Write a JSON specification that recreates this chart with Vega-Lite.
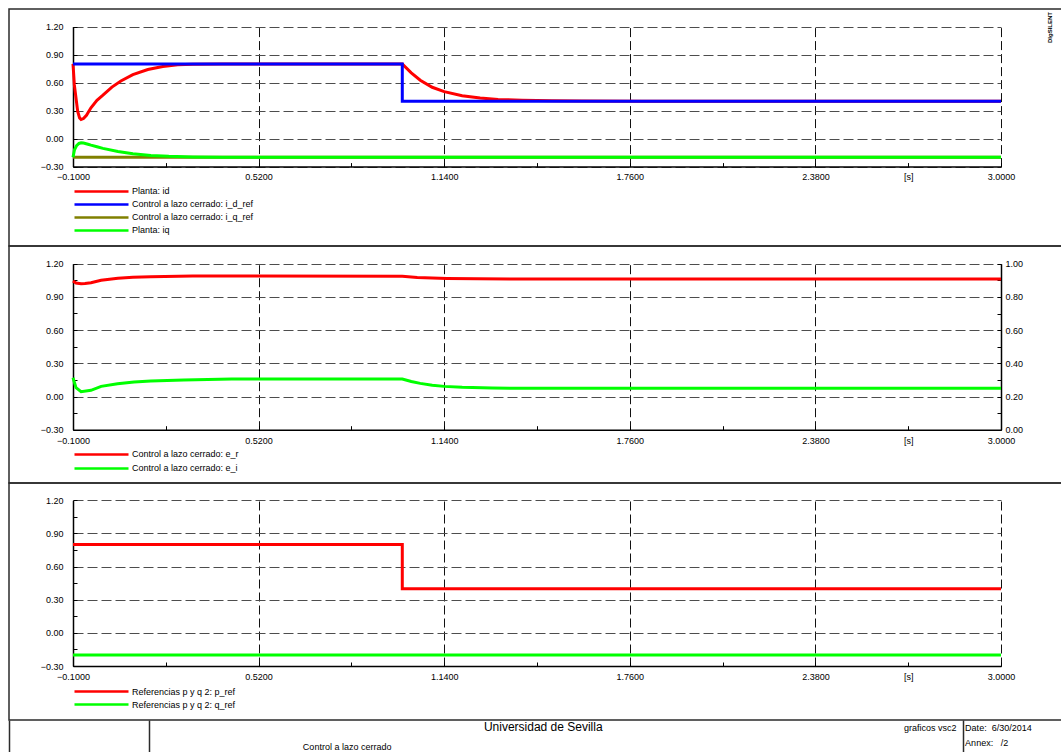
{
  "$schema": "https://vega.github.io/schema/vega-lite/v6.json",
  "background": "white",
  "padding": {"left": 8, "top": 8, "right": 0, "bottom": 0},
  "bounds": "flush",
  "spacing": 0,
  "resolve": {"scale": {"color": "independent"}, "legend": {"color": "independent"}},
  "config": {
    "font": "Liberation Sans",
    "view": {"stroke": "#2b2b2b", "strokeWidth": 1.5},
    "axis": {
      "labelFont": "Liberation Sans",
      "labelFontSize": 9,
      "labelColor": "#000",
      "domainColor": "#000",
      "domainWidth": 1.5,
      "tickColor": "#000",
      "tickWidth": 1,
      "labelFlush": false,
      "labelOverlap": false
    },
    "legend": {
      "labelFont": "Liberation Sans",
      "labelFontSize": 9,
      "labelColor": "#000",
      "labelLimit": 400
    }
  },
  "datasets": {
    "corrientes": [
      {"serie": "Planta: id", "t": -0.1, "v": 0.8},
      {"serie": "Planta: id", "t": -0.0955, "v": 0.575},
      {"serie": "Planta: id", "t": -0.0843, "v": 0.29},
      {"serie": "Planta: id", "t": -0.078, "v": 0.222},
      {"serie": "Planta: id", "t": -0.073, "v": 0.205},
      {"serie": "Planta: id", "t": -0.065, "v": 0.215},
      {"serie": "Planta: id", "t": -0.055, "v": 0.25},
      {"serie": "Planta: id", "t": -0.04, "v": 0.33},
      {"serie": "Planta: id", "t": -0.02, "v": 0.41},
      {"serie": "Planta: id", "t": 0.0, "v": 0.465},
      {"serie": "Planta: id", "t": 0.03, "v": 0.552},
      {"serie": "Planta: id", "t": 0.06, "v": 0.618},
      {"serie": "Planta: id", "t": 0.1, "v": 0.685},
      {"serie": "Planta: id", "t": 0.15, "v": 0.74},
      {"serie": "Planta: id", "t": 0.2, "v": 0.773},
      {"serie": "Planta: id", "t": 0.25, "v": 0.79},
      {"serie": "Planta: id", "t": 0.3, "v": 0.797},
      {"serie": "Planta: id", "t": 0.4, "v": 0.8},
      {"serie": "Planta: id", "t": 1.0, "v": 0.8},
      {"serie": "Planta: id", "t": 1.03, "v": 0.705},
      {"serie": "Planta: id", "t": 1.06, "v": 0.625},
      {"serie": "Planta: id", "t": 1.1, "v": 0.55},
      {"serie": "Planta: id", "t": 1.14, "v": 0.503},
      {"serie": "Planta: id", "t": 1.2, "v": 0.46},
      {"serie": "Planta: id", "t": 1.26, "v": 0.434},
      {"serie": "Planta: id", "t": 1.32, "v": 0.42},
      {"serie": "Planta: id", "t": 1.4, "v": 0.411},
      {"serie": "Planta: id", "t": 1.5, "v": 0.405},
      {"serie": "Planta: id", "t": 1.6, "v": 0.402},
      {"serie": "Planta: id", "t": 1.8, "v": 0.4},
      {"serie": "Planta: id", "t": 3.0, "v": 0.4},
      {"serie": "Control a lazo cerrado: i_d_ref", "t": -0.1, "v": 0.8},
      {"serie": "Control a lazo cerrado: i_d_ref", "t": 1.0, "v": 0.8},
      {"serie": "Control a lazo cerrado: i_d_ref", "t": 1.0, "v": 0.4},
      {"serie": "Control a lazo cerrado: i_d_ref", "t": 3.0, "v": 0.4},
      {"serie": "Control a lazo cerrado: i_q_ref", "t": -0.1, "v": -0.2},
      {"serie": "Control a lazo cerrado: i_q_ref", "t": 3.0, "v": -0.2},
      {"serie": "Planta: iq", "t": -0.1, "v": -0.2},
      {"serie": "Planta: iq", "t": -0.095, "v": -0.12},
      {"serie": "Planta: iq", "t": -0.088, "v": -0.075},
      {"serie": "Planta: iq", "t": -0.08, "v": -0.052},
      {"serie": "Planta: iq", "t": -0.073, "v": -0.045},
      {"serie": "Planta: iq", "t": -0.065, "v": -0.048},
      {"serie": "Planta: iq", "t": -0.05, "v": -0.06},
      {"serie": "Planta: iq", "t": -0.04, "v": -0.07},
      {"serie": "Planta: iq", "t": -0.02, "v": -0.088},
      {"serie": "Planta: iq", "t": 0.0, "v": -0.105},
      {"serie": "Planta: iq", "t": 0.05, "v": -0.139},
      {"serie": "Planta: iq", "t": 0.1, "v": -0.163},
      {"serie": "Planta: iq", "t": 0.16, "v": -0.18},
      {"serie": "Planta: iq", "t": 0.22, "v": -0.19},
      {"serie": "Planta: iq", "t": 0.3, "v": -0.197},
      {"serie": "Planta: iq", "t": 0.4, "v": -0.2},
      {"serie": "Planta: iq", "t": 3.0, "v": -0.2}
    ],
    "tension_r": [
      {"serie": "Control a lazo cerrado: e_r", "t": -0.1, "v": 1.044},
      {"serie": "Control a lazo cerrado: e_r", "t": -0.09, "v": 1.025},
      {"serie": "Control a lazo cerrado: e_r", "t": -0.073, "v": 1.019},
      {"serie": "Control a lazo cerrado: e_r", "t": -0.06, "v": 1.022},
      {"serie": "Control a lazo cerrado: e_r", "t": -0.04, "v": 1.028},
      {"serie": "Control a lazo cerrado: e_r", "t": -0.006, "v": 1.05},
      {"serie": "Control a lazo cerrado: e_r", "t": 0.05, "v": 1.068},
      {"serie": "Control a lazo cerrado: e_r", "t": 0.1, "v": 1.077},
      {"serie": "Control a lazo cerrado: e_r", "t": 0.16, "v": 1.083},
      {"serie": "Control a lazo cerrado: e_r", "t": 0.3, "v": 1.088},
      {"serie": "Control a lazo cerrado: e_r", "t": 0.5, "v": 1.089},
      {"serie": "Control a lazo cerrado: e_r", "t": 1.0, "v": 1.087},
      {"serie": "Control a lazo cerrado: e_r", "t": 1.05, "v": 1.076},
      {"serie": "Control a lazo cerrado: e_r", "t": 1.1, "v": 1.07},
      {"serie": "Control a lazo cerrado: e_r", "t": 1.15, "v": 1.066},
      {"serie": "Control a lazo cerrado: e_r", "t": 1.25, "v": 1.063},
      {"serie": "Control a lazo cerrado: e_r", "t": 1.4, "v": 1.062},
      {"serie": "Control a lazo cerrado: e_r", "t": 3.0, "v": 1.062}
    ],
    "tension_i": [
      {"serie": "Control a lazo cerrado: e_i", "t": -0.1, "v": 0.313},
      {"serie": "Control a lazo cerrado: e_i", "t": -0.09, "v": 0.253},
      {"serie": "Control a lazo cerrado: e_i", "t": -0.073, "v": 0.229},
      {"serie": "Control a lazo cerrado: e_i", "t": -0.04, "v": 0.237},
      {"serie": "Control a lazo cerrado: e_i", "t": -0.006, "v": 0.261},
      {"serie": "Control a lazo cerrado: e_i", "t": 0.049, "v": 0.277},
      {"serie": "Control a lazo cerrado: e_i", "t": 0.104, "v": 0.287},
      {"serie": "Control a lazo cerrado: e_i", "t": 0.16, "v": 0.293},
      {"serie": "Control a lazo cerrado: e_i", "t": 0.27, "v": 0.299},
      {"serie": "Control a lazo cerrado: e_i", "t": 0.43, "v": 0.305},
      {"serie": "Control a lazo cerrado: e_i", "t": 1.0, "v": 0.305},
      {"serie": "Control a lazo cerrado: e_i", "t": 1.03, "v": 0.29},
      {"serie": "Control a lazo cerrado: e_i", "t": 1.06, "v": 0.279},
      {"serie": "Control a lazo cerrado: e_i", "t": 1.1, "v": 0.268},
      {"serie": "Control a lazo cerrado: e_i", "t": 1.14, "v": 0.261},
      {"serie": "Control a lazo cerrado: e_i", "t": 1.2, "v": 0.255},
      {"serie": "Control a lazo cerrado: e_i", "t": 1.3, "v": 0.251},
      {"serie": "Control a lazo cerrado: e_i", "t": 1.45, "v": 0.249},
      {"serie": "Control a lazo cerrado: e_i", "t": 3.0, "v": 0.249}
    ],
    "referencias": [
      {"serie": "Referencias p y q 2: p_ref", "t": -0.1, "v": 0.8},
      {"serie": "Referencias p y q 2: p_ref", "t": 1.0, "v": 0.8},
      {"serie": "Referencias p y q 2: p_ref", "t": 1.0, "v": 0.4},
      {"serie": "Referencias p y q 2: p_ref", "t": 3.0, "v": 0.4},
      {"serie": "Referencias p y q 2: q_ref", "t": -0.1, "v": -0.2},
      {"serie": "Referencias p y q 2: q_ref", "t": 3.0, "v": -0.2}
    ]
  },
  "vconcat": [
    {
      "width": 1060,
      "height": 237,
      "layer": [
        {
          "data": {"name": "corrientes"},
          "mark": {"type": "line", "strokeWidth": 3},
          "encoding": {
            "x": {
              "field": "t", "type": "quantitative",
              "scale": {"domain": [-0.1, 3.0], "range": [64, 992], "nice": false, "zero": false},
              "axis": {
                "orient": "top", "offset": -157.6, "title": null,
                "values": [-0.1, 0.21, 0.52, 0.83, 1.14, 1.45, 1.76, 2.07, 2.38, 2.69, 3.0],
                "labelExpr": "abs(datum.value - 2.69) < 0.001 ? '[s]' : (abs((datum.value + 0.1) / 0.62 - round((datum.value + 0.1) / 0.62)) < 0.01 ? format(datum.value, '.4f') : '')",
                "tickSize": 4, "labelPadding": -14.3, "labelBaseline": "middle",
                "grid": true, "gridColor": "#111", "gridDash": [9, 4],
                "gridOpacity": {"condition": {"test": "abs((datum.value + 0.1) / 0.62 - round((datum.value + 0.1) / 0.62)) < 0.01", "value": 1}, "value": 0}
              }
            },
            "y": {
              "field": "v", "type": "quantitative",
              "scale": {"domain": [-0.3, 1.2], "range": [157.6, 17.6], "nice": false, "zero": false},
              "axis": {
                "orient": "left", "offset": -64, "title": null,
                "values": [-0.3, -0.15, 0, 0.15, 0.3, 0.45, 0.6, 0.75, 0.9, 1.05, 1.2],
                "labelExpr": "abs(datum.value / 0.3 - round(datum.value / 0.3)) < 0.01 ? format(datum.value, '.2f') : ''",
                "tickSize": -4, "labelPadding": 14,
                "grid": true, "gridColor": "#4d4d4d", "gridDash": [10, 4],
                "gridOpacity": {"condition": {"test": "abs(datum.value / 0.3 - round(datum.value / 0.3)) < 0.01", "value": 1}, "value": 0}
              }
            },
            "color": {
              "field": "serie", "type": "nominal",
              "scale": {
                "domain": ["Planta: id", "Control a lazo cerrado: i_d_ref", "Control a lazo cerrado: i_q_ref", "Planta: iq"],
                "range": ["#ff0000", "#0000ff", "#808000", "#00ff00"]
              },
              "legend": {
                "orient": "none", "legendX": 64, "legendY": 176, "direction": "vertical", "title": null,
                "symbolType": "stroke", "symbolSize": 2916, "symbolStrokeWidth": 2.5,
                "labelOffset": 2, "clipHeight": 12.8, "rowPadding": 0, "padding": 0
              }
            }
          }
        },
        {
          "data": {"values": [{"rotulo": "DIgSILENT"}]},
          "mark": {"type": "text", "angle": 270, "align": "left", "baseline": "middle", "fontSize": 6, "fontWeight": "bold", "color": "#000"},
          "encoding": {
            "x": {"datum": 3.164, "type": "quantitative"},
            "y": {"datum": 1.024, "type": "quantitative"},
            "text": {"field": "rotulo"}
          }
        }
      ]
    },
    {
      "width": 1060,
      "height": 237,
      "resolve": {"scale": {"y": "independent"}},
      "layer": [
        {
          "data": {"name": "tension_r"},
          "mark": {"type": "line", "strokeWidth": 3},
          "encoding": {
            "x": {
              "field": "t", "type": "quantitative",
              "scale": {"domain": [-0.1, 3.0], "range": [64, 992], "nice": false, "zero": false},
              "axis": {
                "orient": "top", "offset": -183.7, "title": null,
                "values": [-0.1, 0.21, 0.52, 0.83, 1.14, 1.45, 1.76, 2.07, 2.38, 2.69, 3.0],
                "labelExpr": "abs(datum.value - 2.69) < 0.001 ? '[s]' : (abs((datum.value + 0.1) / 0.62 - round((datum.value + 0.1) / 0.62)) < 0.01 ? format(datum.value, '.4f') : '')",
                "tickSize": 4, "labelPadding": -14.3, "labelBaseline": "middle",
                "grid": true, "gridColor": "#111", "gridDash": [9, 4],
                "gridOpacity": {"condition": {"test": "abs((datum.value + 0.1) / 0.62 - round((datum.value + 0.1) / 0.62)) < 0.01", "value": 1}, "value": 0}
              }
            },
            "y": {
              "field": "v", "type": "quantitative",
              "scale": {"domain": [-0.3, 1.2], "range": [183.7, 17.7], "nice": false, "zero": false},
              "axis": {
                "orient": "left", "offset": -64, "title": null,
                "values": [-0.3, -0.15, 0, 0.15, 0.3, 0.45, 0.6, 0.75, 0.9, 1.05, 1.2],
                "labelExpr": "abs(datum.value / 0.3 - round(datum.value / 0.3)) < 0.01 ? format(datum.value, '.2f') : ''",
                "tickSize": -4, "labelPadding": 14,
                "grid": true, "gridColor": "#4d4d4d", "gridDash": [10, 4],
                "gridOpacity": {"condition": {"test": "abs(datum.value / 0.3 - round(datum.value / 0.3)) < 0.01", "value": 1}, "value": 0}
              }
            },
            "color": {
              "field": "serie", "type": "nominal",
              "scale": {
                "domain": ["Control a lazo cerrado: e_r", "Control a lazo cerrado: e_i"],
                "range": ["#ff0000", "#00ff00"]
              },
              "legend": {
                "orient": "none", "legendX": 64, "legendY": 201.8, "direction": "vertical", "title": null,
                "symbolType": "stroke", "symbolSize": 2916, "symbolStrokeWidth": 2.5,
                "labelOffset": 2, "clipHeight": 13.3, "rowPadding": 0, "padding": 0
              }
            }
          }
        },
        {
          "data": {"name": "tension_i"},
          "mark": {"type": "line", "strokeWidth": 3},
          "encoding": {
            "x": {"field": "t", "type": "quantitative"},
            "y": {
              "field": "v", "type": "quantitative",
              "scale": {"domain": [0, 1], "range": [183.7, 17.7], "nice": false, "zero": false},
              "axis": {
                "orient": "right", "offset": -68, "title": null,
                "values": [0, 0.1, 0.2, 0.3, 0.4, 0.5, 0.6, 0.7, 0.8, 0.9, 1.0],
                "labelExpr": "round(datum.value * 10) % 2 == 0 ? format(datum.value, '.2f') : ''",
                "tickSize": -4, "labelPadding": 8, "grid": false
              }
            },
            "color": {"field": "serie", "type": "nominal"}
          }
        }
      ]
    },
    {
      "width": 1060,
      "height": 237,
      "data": {"name": "referencias"},
      "mark": {"type": "line", "strokeWidth": 3},
      "encoding": {
        "x": {
          "field": "t", "type": "quantitative",
          "scale": {"domain": [-0.1, 3.0], "range": [64, 992], "nice": false, "zero": false},
          "axis": {
            "orient": "top", "offset": -183, "title": null,
            "values": [-0.1, 0.21, 0.52, 0.83, 1.14, 1.45, 1.76, 2.07, 2.38, 2.69, 3.0],
            "labelExpr": "abs(datum.value - 2.69) < 0.001 ? '[s]' : (abs((datum.value + 0.1) / 0.62 - round((datum.value + 0.1) / 0.62)) < 0.01 ? format(datum.value, '.4f') : '')",
            "tickSize": 4, "labelPadding": -14.3, "labelBaseline": "middle",
            "grid": true, "gridColor": "#111", "gridDash": [9, 4],
            "gridOpacity": {"condition": {"test": "abs((datum.value + 0.1) / 0.62 - round((datum.value + 0.1) / 0.62)) < 0.01", "value": 1}, "value": 0}
          }
        },
        "y": {
          "field": "v", "type": "quantitative",
          "scale": {"domain": [-0.3, 1.2], "range": [183, 17.3], "nice": false, "zero": false},
          "axis": {
            "orient": "left", "offset": -64, "title": null,
            "values": [-0.3, -0.15, 0, 0.15, 0.3, 0.45, 0.6, 0.75, 0.9, 1.05, 1.2],
            "labelExpr": "abs(datum.value / 0.3 - round(datum.value / 0.3)) < 0.01 ? format(datum.value, '.2f') : ''",
            "tickSize": -4, "labelPadding": 14,
            "grid": true, "gridColor": "#4d4d4d", "gridDash": [10, 4],
            "gridOpacity": {"condition": {"test": "abs(datum.value / 0.3 - round(datum.value / 0.3)) < 0.01", "value": 1}, "value": 0}
          }
        },
        "color": {
          "field": "serie", "type": "nominal",
          "scale": {
            "domain": ["Referencias p y q 2: p_ref", "Referencias p y q 2: q_ref"],
            "range": ["#ff0000", "#00ff00"]
          },
          "legend": {
            "orient": "none", "legendX": 64, "legendY": 202.2, "direction": "vertical", "title": null,
            "symbolType": "stroke", "symbolSize": 2916, "symbolStrokeWidth": 2.5,
            "labelOffset": 2, "clipHeight": 12.6, "rowPadding": 0, "padding": 0
          }
        }
      }
    },
    {
      "width": 1060,
      "height": 33,
      "view": {"stroke": null},
      "data": {"values": [{"campo": "bloque"}]},
      "encoding": {
        "x": {
          "type": "quantitative",
          "scale": {"domain": [0, 100], "nice": false, "zero": false},
          "axis": {"values": [13.2, 90.0], "grid": true, "gridColor": "#2b2b2b", "gridWidth": 1.5, "labels": false, "ticks": false, "domain": false, "title": null}
        },
        "y": {
          "type": "quantitative",
          "scale": {"domain": [0, 1], "reverse": true, "nice": false, "zero": false},
          "axis": {"grid": false, "labels": false, "ticks": false, "domain": true, "domainColor": "#2b2b2b", "domainWidth": 1.5, "title": null}
        }
      },
      "layer": [
        {
          "data": {"values": [{"texto": "Universidad de Sevilla"}]},
          "mark": {"type": "text", "align": "center", "baseline": "middle", "fontSize": 12, "color": "#000"},
          "encoding": {"x": {"datum": 50.4}, "y": {"datum": 0.22}, "text": {"field": "texto"}}
        },
        {
          "data": {"values": [{"texto": "Control a lazo cerrado"}]},
          "mark": {"type": "text", "align": "center", "baseline": "middle", "fontSize": 9, "color": "#000"},
          "encoding": {"x": {"datum": 31.9}, "y": {"datum": 0.82}, "text": {"field": "texto"}}
        },
        {
          "data": {"values": [{"texto": "graficos vsc2"}]},
          "mark": {"type": "text", "align": "right", "baseline": "middle", "fontSize": 9, "color": "#000"},
          "encoding": {"x": {"datum": 89.4}, "y": {"datum": 0.23}, "text": {"field": "texto"}}
        },
        {
          "data": {"values": [{"texto": "Date:\u00a0\u00a06/30/2014"}]},
          "mark": {"type": "text", "align": "left", "baseline": "middle", "fontSize": 9, "color": "#000"},
          "encoding": {"x": {"datum": 90.2}, "y": {"datum": 0.23}, "text": {"field": "texto"}}
        },
        {
          "data": {"values": [{"texto": "Annex:\u00a0\u00a0\u00a0/2"}]},
          "mark": {"type": "text", "align": "left", "baseline": "middle", "fontSize": 9, "color": "#000"},
          "encoding": {"x": {"datum": 90.2}, "y": {"datum": 0.69}, "text": {"field": "texto"}}
        }
      ]
    }
  ]
}
